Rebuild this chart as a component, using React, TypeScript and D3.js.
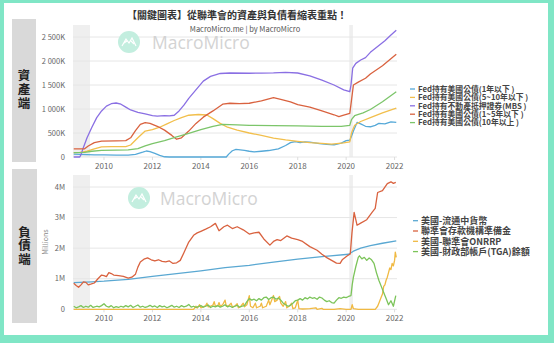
import React from "react";
import * as d3 from "d3";

type P = [number, number];

const title = "【關鍵圖表】從聯準會的資產與負債看縮表重點！";
const subtitle = "MacroMicro.me | by MacroMicro";
const upperSide = "資產端";
const lowerSide = "負債端";
const xTicks = [2010, 2012, 2014, 2016, 2018, 2020, 2022];
const upperTicks = [0, 500, 1000, 1500, 2000, 2500];
const upperTickLabels = ["0", "500K", "1 000K", "1 500K", "2 000K", "2 500K"];
const lowerTicks = [0, 1, 2, 3, 4];
const lowerTickLabels = ["0", "1M", "2M", "3M", "4M"];
const recessions: P[] = [[2008.72, 2009.42], [2020.13, 2020.28]];

const upperNames = [
  "Fed持有美國公債(1年以下 )",
  "Fed持有美國公債(5~10年以下 )",
  "Fed持有不動產抵押證券(MBS )",
  "Fed持有美國公債(1~5年以下 )",
  "Fed持有美國公債(10年以上 )",
];
const upperColors = ["#56a9d8", "#f2bf4c", "#8a6fe3", "#d9623f", "#7cc56a"];

const billsUnder1y: P[] = [[2008.75,60],[2009.0,55],[2009.3,50],[2009.6,45],[2010,45],[2010.5,40],[2011,40],[2011.3,55],[2011.6,100],[2011.75,125],[2011.9,110],[2012.1,75],[2012.3,35],[2012.5,5],[2012.7,0],[2015.05,0],[2015.15,60],[2015.3,130],[2015.45,160],[2015.8,140],[2016.0,120],[2016.2,105],[2016.5,120],[2016.8,135],[2017.2,170],[2017.5,240],[2017.7,300],[2017.9,320],[2018.1,300],[2018.3,315],[2018.5,310],[2018.7,295],[2018.9,280],[2019.2,265],[2019.5,255],[2019.8,290],[2020.0,340],[2020.15,350],[2020.22,430],[2020.3,540],[2020.45,720],[2020.6,690],[2020.8,640],[2021.0,630],[2021.2,660],[2021.35,700],[2021.6,690],[2021.85,730],[2022.07,720]];
const notes5to10y: P[] = [[2008.75,90],[2009.0,95],[2009.3,120],[2009.6,170],[2009.9,210],[2010.3,215],[2010.9,215],[2011.1,250],[2011.4,400],[2011.7,540],[2012.0,570],[2012.3,620],[2012.6,690],[2012.9,760],[2013.2,820],[2013.5,870],[2013.9,885],[2014.25,875],[2014.5,800],[2014.8,700],[2015.1,620],[2015.5,560],[2016.0,500],[2016.5,450],[2017.0,395],[2017.5,355],[2018.0,325],[2018.5,300],[2019.0,285],[2019.4,268],[2019.9,295],[2020.15,315],[2020.22,500],[2020.35,660],[2020.6,740],[2021.0,820],[2021.5,920],[2022.07,1020]];
const mbs: P[] = [[2008.75,0],[2009.0,0],[2009.05,50],[2009.15,200],[2009.3,400],[2009.5,620],[2009.7,820],[2009.9,960],[2010.1,1060],[2010.3,1110],[2010.5,1125],[2010.7,1100],[2010.9,1040],[2011.1,980],[2011.4,930],[2011.7,900],[2012.0,860],[2012.2,850],[2012.5,860],[2012.7,855],[2012.9,870],[2013.1,960],[2013.3,1080],[2013.5,1220],[2013.7,1340],[2013.9,1460],[2014.1,1580],[2014.4,1680],[2014.8,1740],[2015.2,1750],[2016,1745],[2016.5,1748],[2017,1752],[2017.5,1765],[2018.0,1750],[2018.5,1690],[2019.0,1600],[2019.5,1500],[2019.9,1400],[2020.15,1360],[2020.2,1500],[2020.27,1850],[2020.4,1950],[2020.6,2020],[2020.8,2070],[2021.0,2180],[2021.3,2300],[2021.6,2420],[2021.85,2540],[2022.07,2640]];
const notes1to5y: P[] = [[2008.75,170],[2009.2,170],[2009.35,230],[2009.6,300],[2009.9,330],[2010.5,335],[2010.9,340],[2011.1,400],[2011.3,550],[2011.5,680],[2011.7,715],[2011.9,700],[2012.2,640],[2012.5,560],[2012.8,450],[2013.0,370],[2013.2,400],[2013.5,540],[2013.8,700],[2014.1,830],[2014.5,960],[2014.9,1100],[2015.2,1120],[2015.6,1110],[2016.0,1120],[2016.5,1170],[2017.0,1235],[2017.3,1200],[2017.7,1150],[2018.0,1090],[2018.5,1040],[2019.0,960],[2019.5,880],[2019.7,840],[2019.9,870],[2020.15,910],[2020.2,1100],[2020.3,1500],[2020.5,1560],[2020.8,1640],[2021.0,1730],[2021.5,1900],[2022.07,2140]];
const bonds10yPlus: P[] = [[2008.75,90],[2009.2,95],[2009.5,120],[2009.9,140],[2010.5,145],[2011.0,150],[2011.4,175],[2011.7,230],[2012.0,280],[2012.5,340],[2013.0,420],[2013.5,490],[2014.0,570],[2014.5,640],[2014.9,680],[2015.5,670],[2016.0,660],[2017.0,655],[2018.0,650],[2019.0,640],[2019.8,640],[2020.15,660],[2020.22,780],[2020.35,860],[2020.7,920],[2021.0,990],[2021.5,1150],[2022.07,1360]];
const upperSeries = [billsUnder1y, notes5to10y, mbs, notes1to5y, bonds10yPlus];

const lowerNames = ["美國-流通中貨幣", "聯準會存款機構準備金", "美國-聯準會ONRRP", "美國-財政部帳戶(TGA)餘額"];
const lowerColors = ["#5aa8d2", "#d9623f", "#f0b942", "#7cc45a"];

const currency: P[] = [[2008.75,0.87],[2009.5,0.9],[2010,0.92],[2011,0.98],[2012,1.08],[2013,1.17],[2014,1.26],[2015,1.36],[2016,1.44],[2017,1.54],[2018,1.64],[2019,1.72],[2020.1,1.8],[2020.3,1.9],[2020.6,2.0],[2021,2.08],[2021.5,2.16],[2022.07,2.24]];
const reserves: P[] = [[2008.75,0.85],[2008.85,0.78],[2008.95,0.72],[2009.05,0.8],[2009.15,0.9],[2009.25,0.88],[2009.35,0.8],[2009.45,0.82],[2009.6,0.86],[2009.75,1.0],[2009.9,1.12],[2010.0,1.1],[2010.1,1.07],[2010.2,1.2],[2010.3,1.17],[2010.4,1.12],[2010.6,1.1],[2010.8,1.08],[2011.0,1.02],[2011.15,1.05],[2011.3,1.15],[2011.4,1.38],[2011.5,1.55],[2011.65,1.64],[2011.8,1.68],[2011.95,1.62],[2012.1,1.58],[2012.25,1.62],[2012.4,1.57],[2012.55,1.55],[2012.7,1.58],[2012.85,1.5],[2013.0,1.52],[2013.15,1.6],[2013.3,1.85],[2013.5,2.2],[2013.7,2.42],[2013.85,2.5],[2014.0,2.55],[2014.2,2.62],[2014.4,2.7],[2014.6,2.81],[2014.75,2.57],[2014.95,2.7],[2015.1,2.75],[2015.3,2.64],[2015.5,2.7],[2015.75,2.6],[2016.0,2.46],[2016.2,2.5],[2016.4,2.52],[2016.6,2.3],[2016.85,2.1],[2017.0,2.22],[2017.15,2.28],[2017.3,2.25],[2017.55,2.4],[2017.75,2.33],[2018.0,2.28],[2018.2,2.22],[2018.5,2.05],[2018.8,1.93],[2019.0,1.8],[2019.2,1.69],[2019.4,1.6],[2019.6,1.51],[2019.75,1.5],[2019.85,1.63],[2020.05,1.75],[2020.17,1.81],[2020.24,2.5],[2020.33,3.17],[2020.45,2.75],[2020.6,2.82],[2020.85,2.93],[2021.07,3.17],[2021.2,3.3],[2021.3,3.82],[2021.5,3.88],[2021.7,4.11],[2021.85,4.17],[2021.95,4.12],[2022.05,4.15]];
const onrrp: P[] = [[2008.75,0],[2013.7,0],[2013.75,0.05],[2013.8,0.1],[2013.85,0.04],[2013.95,0.15],[2014.0,0.05],[2014.1,0.08],[2014.2,0.12],[2014.25,0.2],[2014.3,0.08],[2014.4,0.1],[2014.5,0.14],[2014.55,0.25],[2014.6,0.1],[2014.7,0.12],[2014.75,0.22],[2014.8,0.1],[2014.9,0.15],[2015.0,0.3],[2015.05,0.1],[2015.15,0.12],[2015.25,0.2],[2015.3,0.08],[2015.4,0.1],[2015.5,0.18],[2015.55,0.05],[2015.65,0.1],[2015.75,0.2],[2015.8,0.08],[2015.9,0.15],[2016.0,0.45],[2016.05,0.1],[2016.15,0.05],[2016.25,0.2],[2016.3,0.05],[2016.45,0.1],[2016.5,0.2],[2016.55,0.05],[2016.7,0.1],[2016.8,0.3],[2016.85,0.15],[2016.95,0.35],[2017.0,0.45],[2017.05,0.25],[2017.15,0.3],[2017.25,0.42],[2017.3,0.2],[2017.4,0.1],[2017.5,0.25],[2017.55,0.05],[2017.65,0.1],[2017.75,0.2],[2017.8,0.02],[2017.9,0.05],[2018.0,0.3],[2018.05,0.02],[2018.2,0.01],[2018.5,0.02],[2018.75,0.05],[2018.8,0.0],[2019.0,0.03],[2019.05,0.0],[2019.5,0.0],[2019.75,0.02],[2020.0,0.0],[2020.2,0.0],[2020.25,0.15],[2020.3,0.02],[2020.5,0.0],[2021.2,0.0],[2021.3,0.1],[2021.35,0.2],[2021.45,0.4],[2021.5,0.5],[2021.55,0.75],[2021.6,0.8],[2021.65,0.95],[2021.7,1.05],[2021.75,1.2],[2021.8,1.35],[2021.85,1.3],[2021.9,1.5],[2021.95,1.42],[2022.0,1.6],[2022.03,1.87],[2022.07,1.7]];
const tga: P[] = [[2008.75,0.1],[2008.85,0.05],[2008.95,0.08],[2009.05,0.12],[2009.15,0.06],[2009.25,0.1],[2009.35,0.07],[2009.45,0.13],[2009.55,0.06],[2009.7,0.1],[2009.8,0.08],[2009.9,0.12],[2010.0,0.18],[2010.1,0.1],[2010.2,0.07],[2010.3,0.12],[2010.4,0.05],[2010.5,0.09],[2010.6,0.06],[2010.7,0.1],[2010.8,0.07],[2010.9,0.12],[2011.0,0.08],[2011.1,0.13],[2011.2,0.06],[2011.3,0.1],[2011.4,0.14],[2011.5,0.07],[2011.6,0.1],[2011.7,0.06],[2011.8,0.09],[2011.9,0.13],[2012.0,0.08],[2012.1,0.11],[2012.2,0.06],[2012.3,0.12],[2012.4,0.08],[2012.5,0.1],[2012.6,0.05],[2012.7,0.09],[2012.8,0.13],[2012.9,0.07],[2013.0,0.1],[2013.1,0.06],[2013.2,0.12],[2013.3,0.08],[2013.4,0.1],[2013.5,0.16],[2013.6,0.07],[2013.7,0.1],[2013.8,0.06],[2013.9,0.09],[2014.0,0.12],[2014.1,0.07],[2014.2,0.1],[2014.3,0.14],[2014.4,0.06],[2014.5,0.1],[2014.6,0.08],[2014.7,0.12],[2014.8,0.07],[2014.9,0.1],[2015.0,0.15],[2015.1,0.08],[2015.2,0.11],[2015.3,0.06],[2015.4,0.1],[2015.5,0.13],[2015.6,0.07],[2015.7,0.1],[2015.8,0.12],[2015.9,0.25],[2016.0,0.35],[2016.1,0.3],[2016.2,0.33],[2016.3,0.28],[2016.4,0.35],[2016.5,0.3],[2016.6,0.38],[2016.7,0.4],[2016.8,0.32],[2016.9,0.38],[2017.0,0.4],[2017.1,0.33],[2017.2,0.37],[2017.3,0.3],[2017.4,0.2],[2017.5,0.15],[2017.6,0.1],[2017.7,0.13],[2017.8,0.2],[2017.9,0.28],[2018.0,0.3],[2018.1,0.35],[2018.2,0.3],[2018.3,0.38],[2018.4,0.34],[2018.5,0.4],[2018.6,0.36],[2018.7,0.38],[2018.8,0.33],[2018.9,0.4],[2019.0,0.37],[2019.1,0.3],[2019.2,0.25],[2019.3,0.28],[2019.4,0.22],[2019.5,0.2],[2019.6,0.3],[2019.7,0.38],[2019.8,0.36],[2019.9,0.4],[2020.0,0.38],[2020.1,0.42],[2020.2,0.45],[2020.25,0.8],[2020.3,1.05],[2020.4,1.4],[2020.5,1.7],[2020.55,1.75],[2020.65,1.65],[2020.75,1.7],[2020.85,1.6],[2020.95,1.68],[2021.05,1.62],[2021.15,1.5],[2021.25,1.2],[2021.35,0.95],[2021.45,0.75],[2021.55,0.55],[2021.65,0.35],[2021.75,0.15],[2021.85,0.28],[2021.95,0.1],[2022.05,0.45]];
const lowerSeries = [currency, reserves, onrrp, tga];

const FONT = "'Noto Sans CJK TC', 'Noto Sans', sans-serif";
const W = 554, H = 343;
const X0 = 73, X1 = 397;

function Logo({ x, y }: { x: number; y: number }) {
  return (
    <g transform={`translate(${x},${y})`}>
      <circle r={11} fill="#c3eedf" />
      <path d="M-7,4 L-3,-3 L0,1 L3,-4 L7,4 M-5,1 L-2,-1 M2,-1 L5,2" stroke="#fff" strokeWidth={1.2} fill="none" />
    </g>
  );
}

function Panel({ top, bottom, yMax, ticks, tickLabels, series, colors, names, legendY, legendStep, legendX, legendFont, logoX, logoY, markX, markY, millions }: any) {
  const x = d3.scaleLinear().domain([2008.72, 2022.1]).range([X0, X1]);
  const yTop = top + 12;
  const y = d3.scaleLinear().domain([0, yMax]).range([bottom, yTop]);
  const line = d3.line<P>().x(d => x(d[0])).y(d => y(d[1]));
  return (
    <g>
      {recessions.map((r, i) => (
        <rect key={i} x={x(r[0])} y={top} width={x(r[1]) - x(r[0])} height={bottom - top} fill="#efefef" />
      ))}
      {ticks.map((t: number, i: number) => (
        <g key={i}>
          <line x1={X0} x2={X1} y1={y(t)} y2={y(t)} stroke="#e6e6e6" strokeWidth={1} />
          <text x={65} y={y(t)} dy="0.35em" textAnchor="end" fontSize={7.5} fill="#666">{tickLabels[i]}</text>
        </g>
      ))}
      {xTicks.map(t => (
        <g key={t}>
          <line x1={x(t)} x2={x(t)} y1={bottom} y2={bottom + 3} stroke="#ddd" />
          <text x={x(t)} y={bottom + 9} dy="0.35em" textAnchor="middle" fontSize={8} fill="#666">{t}</text>
        </g>
      ))}
      <Logo x={logoX} y={logoY} />
      <text x={markX} y={markY} fontSize={17.5} fill="#d3d3d3" fontFamily="'Open Sans', 'Noto Sans', sans-serif">MacroMicro</text>
      {millions && (
        <text transform={`translate(48,${(top + bottom) / 2}) rotate(-90)`} textAnchor="middle" fontSize={7} fill="#888">Millions</text>
      )}
      {series.map((s: P[], i: number) => (
        <path key={i} d={line(s) || ""} fill="none" stroke={colors[i]} strokeWidth={1.3} strokeLinejoin="round" />
      ))}
      {names.map((n: string, i: number) => (
        <line key={n} x1={legendX} x2={legendX + 5} y1={legendY + i * legendStep} y2={legendY + i * legendStep} stroke={colors[i]} strokeWidth={1.3} />
      ))}
      <text fontSize={legendFont} fontWeight={700} fill="#444">
        {names.map((n: string, i: number) => (
          <tspan key={n} x={legendX + 8} y={legendY + i * legendStep + legendFont * 0.36}>{n}</tspan>
        ))}
      </text>
    </g>
  );
}

export default function App() {
  return (
    <svg width={W} height={H} style={{ position: "absolute", left: 0, top: 0 }} fontFamily={FONT}>
      <rect x={0} y={0} width={W} height={H} fill="#80e6c6" />
      <rect x={4} y={3} width={544} height={332} fill="#fff" />
      <text x={237} y={15} dy="0.36em" textAnchor="middle" fontSize={10} fontWeight={700} fill="#333">{title}</text>
      <rect x={12} y={19} width={24} height={143} fill="#d9d9d9" />
      <rect x={12} y={169} width={25} height={154} fill="#d9d9d9" />
      <text x={24} y={68.5} fontSize={12.5} fontWeight={700} fill="#222" letterSpacing={1.5}
        style={{ writingMode: "vertical-rl" }}>{upperSide}</text>
      <text x={24.5} y={225.5} fontSize={12.5} fontWeight={700} fill="#222" letterSpacing={1}
        style={{ writingMode: "vertical-rl" }}>{lowerSide}</text>
      <Panel top={25} bottom={157} yMax={2500} ticks={upperTicks} tickLabels={upperTickLabels}
        series={upperSeries} colors={upperColors} names={upperNames} legendFont={7.8}
        legendY={89} legendStep={8.4} legendX={410} logoX={129} logoY={42} markX={152} markY={48.5} millions={false} />
      <text x={245} y={29} dy="0.35em" textAnchor="middle" fontSize={7.5} fill="#555">{subtitle}</text>
      <Panel top={175} bottom={309.3} yMax={4} ticks={lowerTicks} tickLabels={lowerTickLabels}
        series={lowerSeries} colors={lowerColors} names={lowerNames} legendFont={9}
        legendY={220.7} legendStep={10.3} legendX={413} logoX={139} logoY={198} markX={160} markY={205} millions={true} />
    </svg>
  );
}
